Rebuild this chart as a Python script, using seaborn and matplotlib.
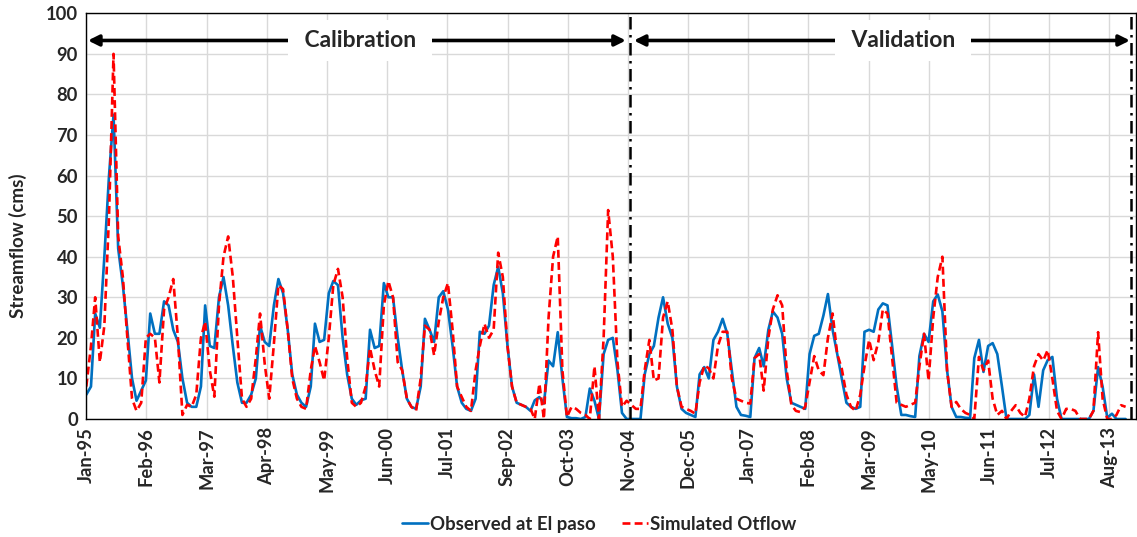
import numpy as np
import pandas as pd
import matplotlib
matplotlib.use("Agg")
import matplotlib.pyplot as plt
import matplotlib.dates as mdates
import seaborn as sns

# ---------------- data (monthly, Jan-1995 .. Dec-2013) ----------------
start_month = "1995-01-01"
n_months = 228

observed = [
    6, 8, 26, 22.5, 40, 60, 75, 42, 33, 22, 10, 4.5,          # 1995
    7, 9.5, 26, 21, 21, 29, 28, 22, 19, 10, 4, 3,             # 1996
    3, 8, 28, 18, 17.5, 30, 35, 28, 18, 9, 4, 4,              # 1997
    6, 10, 23, 19, 18, 28, 34.5, 31, 22, 11, 6, 4,            # 1998
    3, 8, 23.5, 19, 19.5, 31, 34, 33, 20, 11, 5, 3.5,         # 1999
    4.6, 5, 22, 17.5, 18, 33.5, 30, 30, 20, 12, 5, 3,         # 2000
    2.5, 8, 24.7, 22, 19, 30, 31.5, 27, 18, 8, 4, 2.5,        # 2001
    2, 5, 21.5, 21, 23, 33, 37.5, 31, 18, 8, 4, 3.5,          # 2002
    3, 2, 4.6, 5.4, 3.8, 14.4, 13, 21.4, 10, 0.5, 0.2, 0.2,   # 2003
    0, 0.5, 7.5, 4.5, 0, 16, 19.5, 20, 12, 1.5, 0, 0,         # 2004
    0, 0, 11, 16, 18, 25, 30, 23.5, 20, 8, 2.5, 1.5,          # 2005
    1, 0.5, 11, 12.8, 10, 19.5, 21.5, 24.7, 21, 12, 3, 1,     # 2006
    0.8, 0.5, 15, 17.5, 13, 22, 26.5, 25, 21, 10, 4, 3.5,     # 2007
    3, 2.5, 16, 20.5, 21, 25.5, 30.8, 22, 16, 10, 4, 3,       # 2008
    2.5, 3, 21.5, 22, 21.5, 27, 28.5, 28, 18, 8, 1, 1,        # 2009
    0.7, 0.5, 15.5, 21, 19, 29, 30.7, 26.5, 12, 3, 0.5, 0.5,  # 2010
    0.3, 0.2, 15, 19.5, 11.6, 18, 18.7, 16, 8, 0, 0, 0,       # 2011
    0, 0, 1, 11, 3, 12, 14.5, 15.3, 5, 0, 0, 0,               # 2012
    0, 0, 0, 0, 2, 12.8, 8, 0.3, 1.3, 0, 0, 0,                # 2013
]

simulated = [
    8, 18, 30, 14, 23, 50, 90, 45, 35, 20, 5, 2,              # 1995
    4, 20, 21, 20, 9, 27, 30, 34.5, 20, 1, 3.5, 3,            # 1996
    6, 20, 24, 12, 5.5, 28, 40, 45, 35, 20, 5, 3,             # 1997
    5, 15, 26, 13.6, 5, 18.5, 33, 32, 22, 10, 5, 3,           # 1998
    2.5, 12, 18, 14, 9.5, 20, 33, 37, 30, 15, 4, 3,           # 1999
    4, 8, 17.5, 12, 8, 28, 34, 30, 14, 12, 5, 3,              # 2000
    2, 10, 23, 22, 15.7, 24, 30, 33.5, 22, 8, 5.4, 3,         # 2001
    2, 12, 18, 23.5, 20, 22, 41, 35, 18, 8, 4, 3.5,           # 2002
    3, 2.5, 0, 8.7, 0, 25, 40, 45, 12, 0.5, 3, 2.5,           # 2003
    1.5, 1, 0, 13, 0, 20, 51.5, 40, 14, 3, 4.5, 3.5,          # 2004
    2.5, 2.5, 12, 19.5, 9.5, 10, 25, 29, 22, 8, 3, 2.5,       # 2005
    2, 1.3, 9, 13.2, 12.5, 10, 18, 21.5, 21.5, 10, 5, 4.5,    # 2006
    4, 3.8, 15, 16, 7, 20, 27, 30.5, 28, 12, 3.5, 2,          # 2007
    1.7, 3, 9, 15.5, 12, 10.8, 20, 26, 16, 12.4, 6, 3,        # 2008
    2, 6, 13, 19.5, 14.5, 19, 27, 26, 15, 4, 3.5, 3,          # 2009
    3.5, 4, 13, 21, 9.5, 25, 35, 40, 12, 3, 4.2, 2.5,         # 2010
    1.5, 1, 0, 15.3, 12, 14.4, 5, 1, 2, 0, 2, 3.4,            # 2011
    1.5, 0.5, 5, 13, 16, 14.4, 17, 10, 2, 0, 2.5, 2.5,        # 2012
    2, 0, 0, 0, 2, 21.4, 5, 0, 0, 1, 3.4, 3,                  # 2013
]

series_names = ["Observed at El paso", "Simulated Otflow"]
period_labels = ["Calibration", "Validation"]
y_ticks = list(range(0, 101, 10))

# ---------------- build table ----------------
dates = pd.date_range(start_month, periods=n_months, freq="MS")
df = pd.DataFrame({"date": dates,
                   series_names[0]: observed,
                   series_names[1]: simulated})
long = df.melt(id_vars="date", var_name="series", value_name="flow")

# ---------------- style ----------------
sns.set_style("white")
plt.rcParams["font.family"] = ["Lato", "DejaVu Sans"]
plt.rcParams["font.weight"] = "bold"

W, H = 1137, 537
fig = plt.figure(figsize=(W / 100, H / 100), dpi=100)
ax = fig.add_axes([86.3 / W, 1 - 419 / H, (1136 - 86.3) / W, (419 - 13.3) / H])

palette = {series_names[0]: "#0070C0", series_names[1]: "#FF0000"}
dashes = {series_names[0]: "", series_names[1]: (3, 1.6)}
sns.lineplot(data=long, x="date", y="flow", hue="series", style="series",
             palette=palette, dashes=dashes, linewidth=1.9, ax=ax,
             legend=True)

t0 = pd.Timestamp(start_month)
x_left = t0
x_right = t0 + pd.Timedelta(days=6978)
ax.set_xlim(x_left, x_right)
ax.set_ylim(0, 100)

# ticks every 400 days, like the original date axis
xt = [t0 + pd.Timedelta(days=400 * k) for k in range(18)]
ax.set_xticks(xt)
ax.xaxis.set_major_formatter(mdates.DateFormatter("%b-%y"))
ax.set_yticks(y_ticks)
ax.tick_params(axis="both", length=0, labelsize=13.2, pad=6)
for lab in ax.get_xticklabels():
    lab.set_rotation(90)
    lab.set_fontweight("bold")
for lab in ax.get_yticklabels():
    lab.set_fontweight("bold")

ax.grid(True, color="#d9d9d9", linewidth=1)
ax.set_axisbelow(True)
for sp in ax.spines.values():
    sp.set_visible(True)
    sp.set_color("black")
    sp.set_linewidth(1.0)

ax.set_xlabel("")
ax.set_ylabel("Streamflow (cms)", fontsize=13.5, fontweight="bold")
ax.yaxis.set_label_coords(-0.0565, 0.427)

# calibration / validation divider lines
split = t0 + pd.Timedelta(days=3612)
end = t0 + pd.Timedelta(days=6945)
for d in (split, end):
    ax.axvline(d, color="black", linewidth=1.8, linestyle=(0, (5, 2.2, 1, 2.2)), zorder=5)

# arrows with labels
y_arrow = 93.3
arrow_kw = dict(arrowstyle="<|-|>", color="black", lw=2.6,
                mutation_scale=16, shrinkA=0, shrinkB=0)
cal_a = t0 + pd.Timedelta(days=11)
cal_b = t0 + pd.Timedelta(days=3587)
val_a = t0 + pd.Timedelta(days=3640)
val_b = t0 + pd.Timedelta(days=6938)
ax.annotate("", xy=(cal_a, y_arrow), xytext=(cal_b, y_arrow), arrowprops=arrow_kw, zorder=6)
ax.annotate("", xy=(val_a, y_arrow), xytext=(val_b, y_arrow), arrowprops=arrow_kw, zorder=6)

cal_mid = t0 + pd.Timedelta(days=1820)
val_mid = t0 + pd.Timedelta(days=5430)
for mid, txt in ((cal_mid, period_labels[0]), (val_mid, period_labels[1])):
    ax.text(mid, y_arrow, " " + txt + " ", ha="center", va="center", fontsize=16.5,
            fontweight="bold", zorder=7,
            bbox=dict(boxstyle="square,pad=0.45", fc="white", ec="none"))

# legend at bottom
handles, labels = ax.get_legend_handles_labels()
ax.get_legend().remove()
fig.legend(handles, labels, loc="center", bbox_to_anchor=(0.527, 0.024),
           ncol=2, frameon=False, handlelength=1.4,
           handletextpad=0.1, columnspacing=1.4,
           prop={"weight": "bold", "size": 13.4})

fig.savefig("out.png", dpi=100)
